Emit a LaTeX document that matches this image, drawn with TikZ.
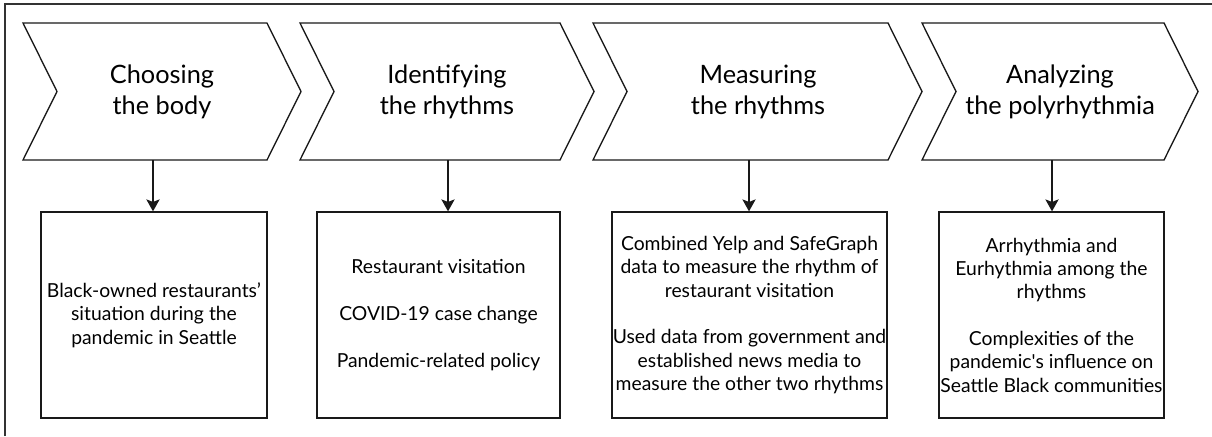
\documentclass[tikz,border=0pt]{standalone}
\usepackage{fontspec}
\setmainfont{Lato}
\usetikzlibrary{arrows.meta}
\begin{document}
\begin{tikzpicture}[x=0.75pt,y=-0.75pt,
  chev/.style={draw=black!90,line width=1pt,line join=miter},
  title/.style={align=center,font=\fontsize{19}{23}\selectfont,inner sep=0pt},
  infobox/.style={draw=black!90,line width=1pt,minimum height=154.5pt,align=center,font=\fontsize{14.5}{17.5}\selectfont,inner sep=0pt},
  arr/.style={-{Stealth[length=9pt,width=10pt,inset=2pt]},line width=0.9pt,draw=black!90}]
\useasboundingbox (0,0) rectangle (1212,436);
\draw[line width=1.3pt,black!80] (5,436) -- (5,4) -- (1212,4);
% chevrons
\draw[chev] (23,23) -- (267,23) -- (301,91.5) -- (267,160) -- (23,160) -- (57,91.5) -- cycle;
\draw[chev] (300,23) -- (560,23) -- (594,91.5) -- (560,160) -- (300,160) -- (334,91.5) -- cycle;
\draw[chev] (593,23) -- (888,23) -- (922,91.5) -- (888,160) -- (593,160) -- (627,91.5) -- cycle;
\draw[chev] (922,23) -- (1164,23) -- (1198,91.5) -- (1164,160) -- (922,160) -- (956,91.5) -- cycle;
\node[title] (t1) at (162,92) {Choosing\\the body};
\node[title] (t2) at (447,92) {Identifying\\the rhythms};
\node[title] (t3) at (758,92) {Measuring\\the rhythms};
\node[title] (t4) at (1060,92) {Analyzing\\the polyrhythmia};
\coordinate (s1) at (153,160);
\coordinate (s2) at (448,160);
\coordinate (s3) at (749,160);
\coordinate (s4) at (1052,160);
% boxes
\node[infobox,minimum width=169.5pt] (b1) at (154,315) {Black-owned restaurants'\\situation during the\\pandemic in Seattle};
\node[infobox,minimum width=182.25pt] (b2) at (438.5,315) {Restaurant visitation\\[17.5pt]COVID-19 case change\\[17.5pt]Pandemic-related policy};
\node[infobox,minimum width=206.25pt] (b3) at (749.5,315) {Combined Yelp and SafeGraph\\data to measure the rhythm of\\restaurant visitation\\[17.5pt]Used data from government and\\established news media to\\measure the other two rhythms};
\node[infobox,minimum width=168.75pt] (b4) at (1051.5,315) {Arrhythmia and\\Eurhythmia among the\\rhythms\\[17.5pt]Complexities of the\\pandemic\textquotesingle s influence on\\Seattle Black communities};
% arrows
\draw[arr] (s1) -- (s1 |- b1.north);
\draw[arr] (s2) -- (s2 |- b2.north);
\draw[arr] (s3) -- (s3 |- b3.north);
\draw[arr] (s4) -- (s4 |- b4.north);
\end{tikzpicture}
\end{document}
